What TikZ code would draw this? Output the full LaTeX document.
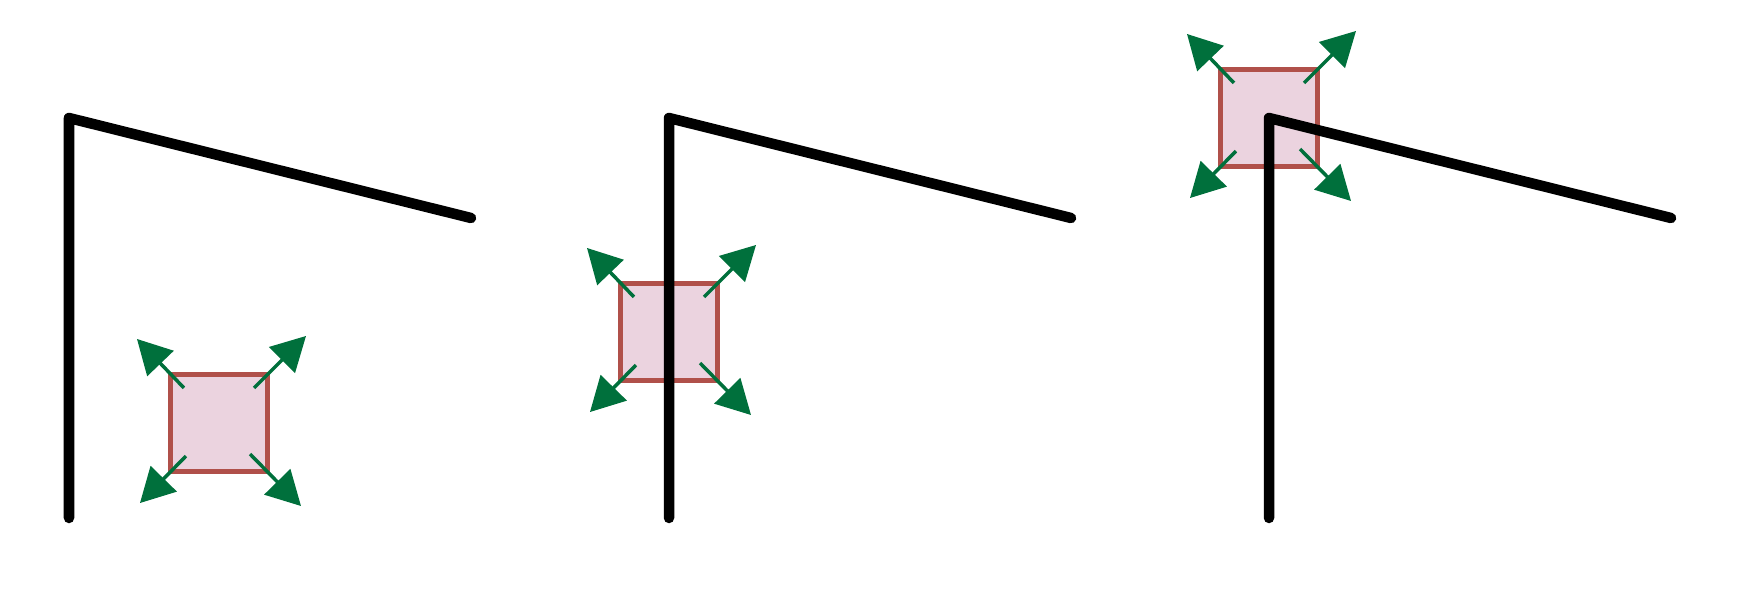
\documentclass[tikz,border=0pt]{standalone}
\usetikzlibrary{arrows.meta,calc}
\definecolor{boxred}{RGB}{176,80,74}
\definecolor{boxpink}{RGB}{235,211,223}
\definecolor{dkgreen}{RGB}{0,112,60}

\begin{document}
\begin{tikzpicture}[x=0.01cm,y=-0.01cm,
          wire/.style={line width=0.105cm,line cap=round,line join=round},
          sq/.style={draw=boxred,fill=boxpink,line width=0.05cm,
                     minimum size=0.97cm,inner sep=0pt},
          push/.style={-{Triangle[length=0.34cm,width=0.36cm]},dkgreen,
                       line width=0.035cm}]
        \useasboundingbox (0,0) rectangle (1746,610);
        % the box in its three places
        \node[sq] (s1) at (219,423) {};
        \node[sq] (s2) at (669,332) {};
        \node[sq] (s3) at (1269,118) {};
        % bent line, one per panel
        \foreach \i/\x in {1/69,2/669,3/1269} {
          \coordinate (b\i) at (\x,518);
          \coordinate (c\i) at (\x,118);
          \coordinate (e\i) at (\x+402,218);
          \draw[wire] (b\i) -- (c\i) -- (e\i);
        }
        % arrows out of the corners
        \foreach \i in {1,2,3} {
          \draw[push] ($(s\i.north east)+(-16,16)$) -- ($(s\i.north east)+(36,-36)$);
          \draw[push] ($(s\i.north west)+(16,16)$) -- ($(s\i.north west)+(-31,-33)$);
          \draw[push] ($(s\i.south west)+(18,-18)$) -- ($(s\i.south west)+(-28,29)$);
          \draw[push] ($(s\i.south east)+(-20,-20)$) -- ($(s\i.south east)+(31,32)$);
        }
      \end{tikzpicture}
\end{document}
